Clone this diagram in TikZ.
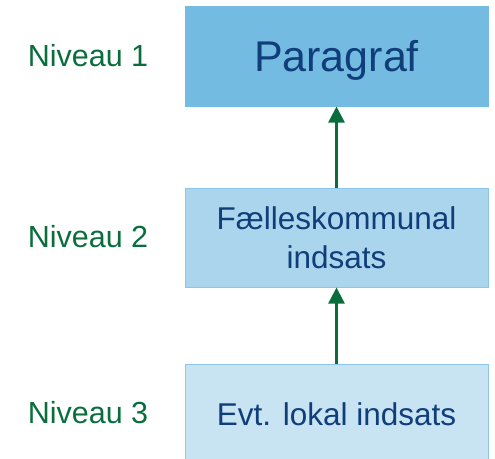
\documentclass[tikz,border=0pt]{standalone}
\usepackage{fontspec}
\setmainfont{Liberation Sans}
\usepackage{tikz}
\usetikzlibrary{arrows.meta}

\definecolor{boxtext}{RGB}{16,62,122}
\definecolor{levelgreen}{RGB}{10,110,60}
\definecolor{fillone}{RGB}{116,187,226}
\definecolor{filltwo}{RGB}{171,213,236}
\definecolor{fillthree}{RGB}{200,227,242}
\definecolor{boxline}{RGB}{141,198,232}

\begin{document}
\begin{tikzpicture}[x=1pt, y=-1pt,
    level/.style={text=levelgreen, font=\fontsize{30.5}{36}\selectfont},
    box/.style={rectangle, draw=boxline, line width=1pt, minimum width=303pt,
      minimum height=100pt, inner sep=0pt, align=center, text=boxtext,
      font=\fontsize{31.5}{39}\selectfont},
    up/.style={-{Triangle[length=16pt,width=16pt]}, line width=2.5pt, draw=levelgreen}]
    \useasboundingbox (0,0) rectangle (495,458);

    \foreach \pos/\name/\txt in {{(88,56)/n1/Niveau 1}, {(88,237)/n2/Niveau 2}, {(88,413)/n3/Niveau 3}}
        \node[level] (\name) at \pos {\txt};

    \node[box, fill=fillone, draw=fillone, text depth=0pt, font=\fontsize{43}{50}\selectfont] (para) at (336.5,56) {Paragraf};
    \node[box, fill=filltwo, minimum height=99pt] (faelles) at (336.5,237.5) {Fælleskommunal\\indsats};
    \node[box, fill=fillthree] (lokal) at (336.5,414) {Evt. lokal indsats};

    \draw[up] (faelles) -- (para);
    \draw[up] (lokal) -- (faelles);
\end{tikzpicture}
\end{document}
